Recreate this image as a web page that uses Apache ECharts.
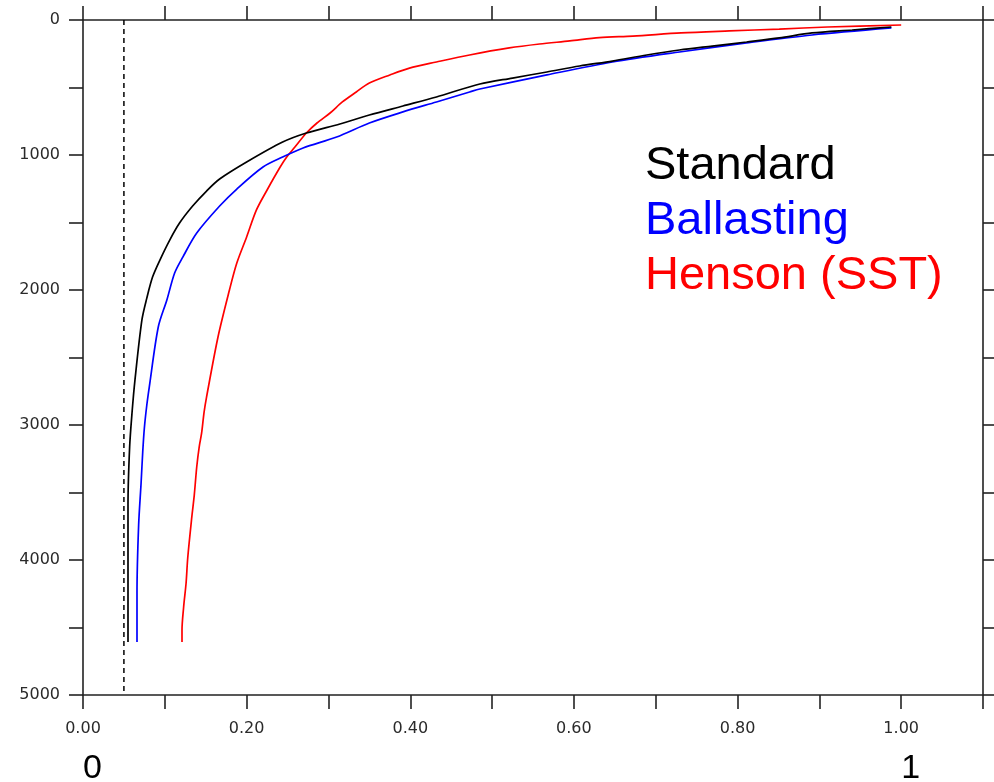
<!DOCTYPE html>
<html>
<head>
<meta charset="utf-8">
<script src="https://cdn.jsdelivr.net/npm/echarts@6/dist/echarts.min.js"></script>
<style>
html,body{margin:0;padding:0;background:#fff;}
#chart{width:994px;height:782px;}
</style>
</head>
<body>
<div id="chart"></div>
<script>
// [fraction, depth (m)]
const standard = [
  [0.988,52],[0.940,74],[0.891,96],[0.851,133],[0.811,163],[0.769,193],[0.729,222],
  [0.689,259],[0.647,304],[0.607,341],[0.567,385],[0.525,430],[0.485,474],[0.432,570],
  [0.391,637],[0.350,704],[0.314,770],[0.273,837],[0.244,904],[0.200,1052],[0.167,1178],
  [0.151,1267],[0.134,1378],[0.118,1504],[0.106,1630],[0.094,1778],[0.085,1904],[0.078,2060],
  [0.072,2222],[0.0635,2667],[0.060,2904],[0.057,3163],[0.055,3593],[0.055,4607]
];
const ballasting = [
  [0.988,59],[0.891,111],[0.811,170],[0.729,237],[0.647,311],[0.567,407],[0.485,511],
  [0.4725,533],[0.432,607],[0.391,681],[0.350,763],[0.310,867],[0.269,948],[0.244,1015],
  [0.220,1089],[0.188,1252],[0.167,1378],[0.139,1578],[0.122,1756],[0.112,1874],[0.1025,2074],
  [0.092,2274],[0.081,2719],[0.078,2852],[0.075,3022],[0.073,3200],[0.071,3430],[0.068,3741],
  [0.066,4244],[0.066,4607]
];
const henson = [
  [1.0,37],[0.910,52],[0.851,67],[0.790,81],[0.731,96],[0.672,119],[0.631,130],[0.595,155],
  [0.558,178],[0.521,207],[0.4725,259],[0.432,311],[0.399,356],[0.375,407],[0.350,467],
  [0.334,533],[0.317,607],[0.302,689],[0.286,763],[0.273,837],[0.259,941],[0.249,1015],
  [0.241,1089],[0.225,1259],[0.212,1407],[0.200,1607],[0.188,1800],[0.179,2000],[0.165,2348],
  [0.151,2793],[0.148,2904],[0.145,3059],[0.142,3163],[0.139,3311],[0.136,3519],[0.133,3681],
  [0.128,3985],[0.126,4170],[0.123,4348],[0.121,4519],[0.121,4607]
];
const refLineX = 0.05;
const seriesNames = ['Standard', 'Ballasting', 'Henson (SST)'];
const seriesColors = ['#000000', '#0000ff', '#ff0000'];
const xMin = 0, xMax = 1.1, xStep = 0.1;
const yMin = 0, yMax = 5000, yStep = 500;
const endLabels = {0: '0', 10: '1'};

const tickFont = {fontFamily: 'DejaVu Sans', fontSize: 16, color: '#2a2a2a'};
const axisLineStyle = {color: '#222', width: 1.6};

const chart = echarts.init(document.getElementById('chart'), null, {renderer: 'canvas'});

function xFmt(v) {
  const k = Math.round(v / xStep);
  return k % 2 === 0 ? v.toFixed(2) : '';
}
function yFmt(v) {
  return Math.round(v) % 1000 === 0 ? String(Math.round(v)) : '';
}

const baseX = {
  type: 'value', min: xMin, max: xMax, interval: xStep,
  axisLine: {show: true, onZero: false, lineStyle: axisLineStyle},
  axisTick: {show: true, inside: false, length: 14, lineStyle: axisLineStyle},
  splitLine: {show: false}
};
const baseY = {
  type: 'value', min: yMin, max: yMax, interval: yStep, inverse: true,
  axisLine: {show: true, onZero: false, lineStyle: axisLineStyle},
  axisTick: {show: true, inside: false, length: 14, lineStyle: axisLineStyle},
  splitLine: {show: false}
};

const lineSeries = [standard, ballasting, henson].map((d, i) => ({
  name: seriesNames[i], type: 'line', data: d, showSymbol: false, symbol: 'none',
  smooth: 0.3,
  xAxisIndex: 0, yAxisIndex: 0,
  lineStyle: {color: seriesColors[i], width: 1.7}, itemStyle: {color: seriesColors[i]},
  z: 3 - i + 2, animation: false
}));

const option = {
  animation: false,
  backgroundColor: '#ffffff',
  grid: {left: 83, right: 11, top: 20, bottom: 87, containLabel: false, outerBoundsMode: 'none'},
  xAxis: [
    Object.assign({}, baseX, {position: 'bottom',
      axisLabel: Object.assign({show: true, margin: 26, formatter: xFmt, showMaxLabel: true, showMinLabel: true}, tickFont)}),
    Object.assign({}, baseX, {position: 'top', axisLabel: {show: false}}),
    Object.assign({}, baseX, {position: 'bottom', offset: 0,
      axisLine: {show: false}, axisTick: {show: false},
      axisLabel: {show: true, margin: 57, align: 'left', fontFamily: 'Liberation Sans', fontSize: 34, color: '#000',
        formatter: v => endLabels[Math.round(v / xStep)] || ''}})
  ],
  yAxis: [
    Object.assign({}, baseY, {position: 'left',
      axisLabel: Object.assign({show: true, margin: 23, formatter: yFmt, showMaxLabel: true, showMinLabel: true}, tickFont)}),
    Object.assign({}, baseY, {position: 'right', axisLabel: {show: false}})
  ],
  graphic: seriesNames.map((n, i) => ({
    type: 'text', left: 645, top: 143 + i * 55, silent: true,
    style: {text: n, fill: seriesColors[i], font: '47px "Liberation Sans", Arial, sans-serif'}
  })),
  series: [
    {
      name: 'ref', type: 'line', data: [[refLineX, yMin], [refLineX, yMax]],
      showSymbol: false, symbol: 'none', xAxisIndex: 0, yAxisIndex: 0,
      lineStyle: {color: '#000', width: 1.5, type: [5, 4]}, z: 2
    }
  ].concat(lineSeries)
};
chart.setOption(option);
</script>
</body>
</html>
